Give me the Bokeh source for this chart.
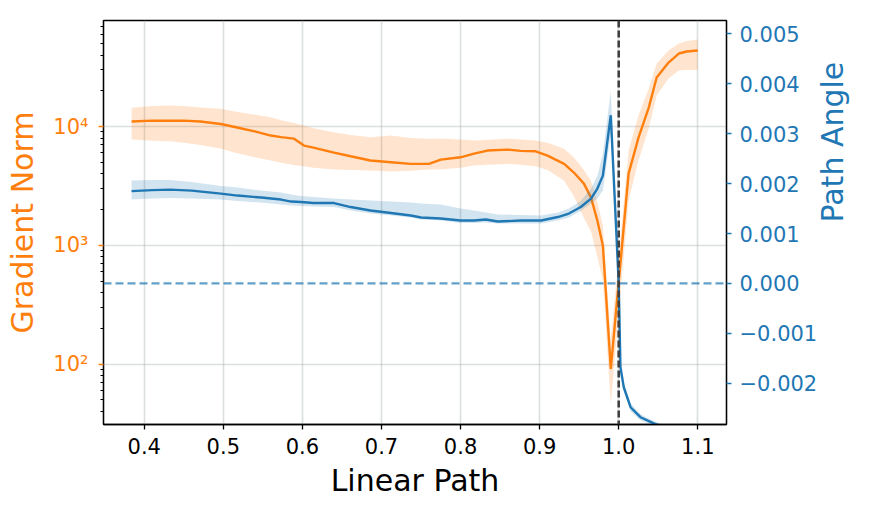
import math
from bokeh.plotting import figure
from bokeh.models import (Range1d, LinearAxis, LinearScale, FixedTicker,
                          CustomJSTickFormatter, Span, Title)
from bokeh.embed import file_html
from bokeh.resources import INLINE

# ---------------- data ----------------
# Gradient norm (left, log axis)
norm_x = [0.384, 0.41, 0.433, 0.45, 0.471, 0.497, 0.516, 0.541, 0.56, 0.573,
          0.589, 0.602, 0.614, 0.64, 0.661, 0.686, 0.712, 0.737, 0.76, 0.775,
          0.80, 0.817, 0.834, 0.86, 0.876, 0.895, 0.91, 0.931, 0.943, 0.956,
          0.965, 0.973, 0.98, 0.99, 1.0125, 1.025, 1.038, 1.048, 1.063, 1.076,
          1.086, 1.1]
norm_mean = [11020, 11230, 11200, 11230, 11020, 10500, 9870, 9075, 8400, 8150,
             7920, 6915, 6650, 6040, 5620, 5175, 5010, 4855, 4855, 5270,
             5510, 5925, 6280, 6400, 6245, 6190, 5700, 4855, 4120, 3310,
             2520, 1615, 990, 91, 4020, 8075, 14450, 25870, 34600, 41200,
             42850, 43650]
norm_hi = [14370, 14900, 15030, 14900, 14500, 14100, 13300, 12600, 11980, 11300,
           10700, 10200, 9700, 8950, 8500, 8130, 8400, 8000, 7880, 7950,
           7800, 7620, 7750, 7880, 7800, 7620, 7300, 6500, 5510, 4300,
           3500, 2300, 1466, 157, 6280, 12380, 20900, 33950, 43690, 50040,
           52500, 54070]
norm_lo = [7770, 7600, 7520, 7300, 7000, 6490, 6000, 5500, 5170, 4950,
           4750, 4630, 4500, 4340, 4300, 4260, 4180, 4250, 4340, 4340,
           4500, 4690, 4780, 4850, 4780, 4630, 4300, 3500, 2620, 1700,
           1300, 800, 505, 46, 2380, 5170, 9620, 18240, 25380, 29640,
           30000, 30040]

# Path angle (right, linear axis)
angle_x = [0.384, 0.41, 0.433, 0.46, 0.497, 0.518, 0.548, 0.573, 0.586, 0.598,
           0.614, 0.64, 0.661, 0.686, 0.712, 0.737, 0.75, 0.775, 0.80, 0.817,
           0.832, 0.847, 0.876, 0.902, 0.923, 0.937, 0.952, 0.965, 0.973, 0.98,
           0.99, 1.0, 1.0022, 1.0064, 1.015, 1.0275, 1.045, 1.06, 1.08, 1.1]
angle_mean = [0.00185, 0.00187, 0.00188, 0.00186, 0.00180, 0.00176, 0.00172, 0.00168, 0.00164, 0.00163,
              0.00161, 0.00161, 0.00153, 0.00146, 0.00141, 0.00136, 0.00132, 0.00130, 0.00126, 0.00126,
              0.00128, 0.00124, 0.00126, 0.00126, 0.00133, 0.00140, 0.00153, 0.00170, 0.00190, 0.00216,
              0.00337, 0.0, -0.00168, -0.00208, -0.00248, -0.00268, -0.00281, -0.0029, -0.00295, -0.003]
angle_hi = [0.00206, 0.00207, 0.00207, 0.00203, 0.00195, 0.00192, 0.00186, 0.00182, 0.00178, 0.00175,
            0.00173, 0.00170, 0.00168, 0.00166, 0.00164, 0.00162, 0.00160, 0.00158, 0.00150, 0.00146,
            0.00142, 0.00138, 0.00137, 0.00136, 0.00142, 0.00150, 0.00165, 0.00190, 0.00215, 0.00260,
            0.00386, 0.00005, -0.00160, -0.00200, -0.00240, -0.00262, -0.00276, -0.00285, -0.0029, -0.00295]
angle_lo = [0.00168, 0.00170, 0.00171, 0.00170, 0.00168, 0.00165, 0.00162, 0.00158, 0.00156, 0.00155,
            0.00154, 0.00153, 0.00146, 0.00140, 0.00136, 0.00132, 0.00128, 0.00126, 0.00121, 0.00121,
            0.00122, 0.00120, 0.00120, 0.00120, 0.00126, 0.00132, 0.00145, 0.00160, 0.00170, 0.00186,
            0.00300, -0.00005, -0.00176, -0.00216, -0.00256, -0.00274, -0.00286, -0.00295, -0.003, -0.00305]

x_ticks = [0.4, 0.5, 0.6, 0.7, 0.8, 0.9, 1.0, 1.1]
norm_ticks = [100, 1000, 10000]
norm_minor = [m * 10 ** e for e in (1, 2, 3, 4) for m in range(2, 10)]
angle_ticks = [-0.002, -0.001, 0.0, 0.001, 0.002, 0.003, 0.004, 0.005]
x_marker = 1.0
angle_zero = 0.0

ORANGE = "#ff7f0e"
BLUE = "#1f77b4"
FONT = "DejaVu Sans"
W, H = 871, 509
FL, FT, FR, FB = 103, 20, 726, 424   # frame edges

p = figure(width=W, height=H, output_backend="svg", toolbar_location=None,
           x_range=Range1d(0.3485, 1.1363), y_range=Range1d(31, 78170),
           y_axis_type="log",
           min_border_left=FL, min_border_right=W - FR, min_border_top=FT,
           min_border_bottom=H - FB)
p.extra_y_ranges = {"angle": Range1d(-0.002826, 0.005267)}
p.extra_y_scales = {"angle": LinearScale()}

p.background_fill_color = "white"
p.border_fill_color = "white"
p.outline_line_color = "black"
p.outline_line_width = 1.3
p.outline_line_alpha = 1.0

# grid
p.xgrid.ticker = FixedTicker(ticks=x_ticks)
p.ygrid.ticker = FixedTicker(ticks=norm_ticks)
for g in (p.xgrid[0], p.ygrid[0]):
    g.grid_line_color = "#b0b8b8"
    g.grid_line_alpha = 0.45
    g.grid_line_width = 1.6

# gradient norm
p.varea(x=norm_x, y1=norm_lo, y2=norm_hi, fill_color=ORANGE, fill_alpha=0.2)
p.line(norm_x, norm_mean, line_color=ORANGE, line_width=2.4)

# path angle
p.varea(x=angle_x, y1=angle_lo, y2=angle_hi, fill_color=BLUE, fill_alpha=0.2,
        y_range_name="angle")
p.line(angle_x, angle_mean, line_color=BLUE, line_width=2.4, y_range_name="angle")

p.add_layout(Span(location=angle_zero, dimension="width", y_range_name="angle",
                  line_color=BLUE, line_alpha=0.7, line_dash="8 4", line_width=2.2))
p.add_layout(Span(location=x_marker, dimension="height", line_color="#404040",
                  line_dash="7 3", line_width=2.6))

# x axis
xa = p.xaxis[0]
xa.ticker = FixedTicker(ticks=x_ticks)
xa.formatter = CustomJSTickFormatter(code="return tick.toFixed(1);")
xa.axis_label = "Linear Path"

# left axis
ya = p.yaxis[0]
ya.ticker = FixedTicker(ticks=norm_ticks, minor_ticks=norm_minor)
ya.formatter = CustomJSTickFormatter(code="""
const sup = {"0":"\u2070","1":"\u00b9","2":"\u00b2","3":"\u00b3","4":"\u2074","5":"\u2075","6":"\u2076","7":"\u2077","8":"\u2078","9":"\u2079"};
const e = String(Math.round(Math.log10(tick)));
return "10" + e.split("").map(c => sup[c]).join("");
""")
ya.axis_label = "Gradient Norm"
ya.axis_label_text_color = ORANGE
ya.major_label_text_color = ORANGE
ya.major_tick_line_color = ORANGE
ya.minor_tick_line_color = "black"
ya.minor_tick_out = 3
ya.minor_tick_in = 0

# right axis
ra = LinearAxis(y_range_name="angle", ticker=FixedTicker(ticks=angle_ticks),
                formatter=CustomJSTickFormatter(code="""
return (tick < -1e-9 ? "\u2212" : "") + Math.abs(tick).toFixed(3);
"""))
ra.major_label_text_color = BLUE
ra.major_tick_line_color = BLUE
p.add_layout(ra, "right")

for ax in (xa, ya, ra):
    ax.axis_line_color = "black"
    ax.axis_line_width = 1.3
    ax.major_tick_out = 5
    ax.major_tick_in = 0
    ax.major_tick_line_width = 1.3
    ax.major_label_text_font = FONT
    ax.major_label_text_font_size = "21px"
    ax.axis_label_text_font = FONT
    ax.axis_label_text_font_size = "30px"
    ax.axis_label_text_font_style = "normal"
xa.minor_tick_line_color = None
ra.minor_tick_line_color = None
xa.major_label_text_color = "black"
xa.axis_label_text_color = "black"
xa.major_label_standoff = 8
xa.axis_label_standoff = 6
ya.major_label_standoff = 10
ya.axis_label_standoff = 10
ra.major_label_standoff = 8

# right-axis title, reading bottom-to-top like the reference
if "axis_label_orientation" in ra.properties():
    ra.axis_label = "Path Angle"
    ra.axis_label_text_color = BLUE
    ra.axis_label_standoff = 12
    ra.axis_label_orientation = math.pi / 2
    ra.axis_label_text_align = "center"
    ra.axis_label_text_baseline = "middle"
else:
    p.add_layout(Title(text="Path Angle", align="center", text_color=BLUE,
                       text_font=FONT, text_font_size="30px",
                       text_font_style="normal"), "right")

open("out.html", "w").write(file_html(p, INLINE))
